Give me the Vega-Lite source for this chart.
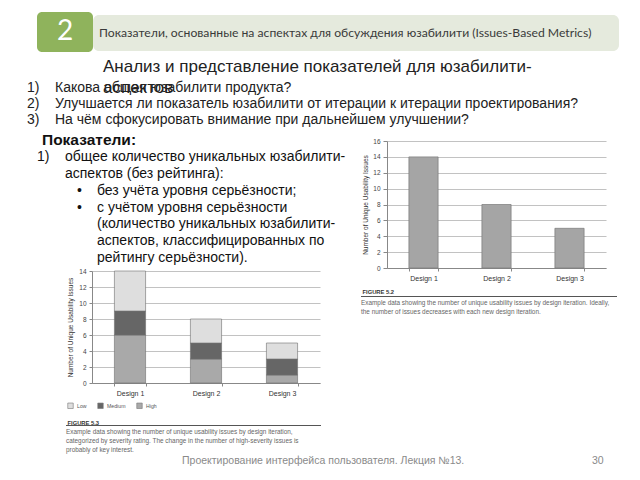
{
  "$schema": "https://vega.github.io/schema/vega-lite/v6.json",
  "background": "white",
  "padding": 0,
  "spacing": 0,
  "resolve": {"scale": {"color": "independent"}, "legend": {"color": "independent"}},
  "config": {
    "view": {"stroke": null},
    "font": "Liberation Sans",
    "text": {"font": "Liberation Sans"}
  },
  "vconcat": [
    {
      "spacing": 0,
      "hconcat": [
        {"width": 37, "height": 52, "data": {"values": []}, "mark": "text"},
        {
          "spacing": 0,
          "vconcat": [
            {"width": 56, "height": 12, "data": {"values": []}, "mark": "text"},
            {
              "width": 56, "height": 40,
              "view": {"fill": "#8fb35c", "stroke": null, "cornerRadius": 5},
              "data": {"values": [{"n": "2"}]},
              "mark": {"type": "text", "font": "Lato", "fontSize": 28, "color": "white"},
              "encoding": {"text": {"field": "n"}}
            }
          ]
        },
        {
          "spacing": 0,
          "vconcat": [
            {"width": 526, "height": 15, "data": {"values": []}, "mark": "text"},
            {
              "width": 526, "height": 36,
              "view": {"fill": "#e5eadd", "stroke": null, "cornerRadius": 6},
              "data": {"values": [{"col": 0, "t": "Показатели, основанные на аспектах для обсуждения юзабилити (Issues-Based Metrics)"}]},
              "mark": {"type": "text", "font": "Lato", "fontSize": 12.2, "color": "#3a3a3a", "align": "left"},
              "encoding": {
                "x": {"field": "col", "type": "quantitative", "scale": {"domain": [0, 1], "range": [6, 500], "zero": false, "nice": false}, "axis": null},
                "text": {"field": "t"}
              }
            }
          ]
        }
      ]
    },
    {
      "width": 640, "height": 78,
      "encoding": {
        "x": {"field": "col", "type": "quantitative", "scale": {"domain": [0, 1, 2], "range": [27, 55, 103], "zero": false, "nice": false}, "axis": null},
        "y": {"field": "row", "type": "quantitative", "scale": {"domain": [0, 1, 3], "range": [15, 36, 68], "zero": false, "nice": false}, "axis": null},
        "text": {"field": "t"}
      },
      "layer": [
        {
          "data": {"values": [
            {"row": 0, "col": 2, "t": "Анализ и представление показателей для юзабилити-"},
            {"row": 1, "col": 2, "t": "аспектов"}
          ]},
          "mark": {"type": "text", "align": "left", "baseline": "middle", "fontSize": 17, "color": "#222222"}
        },
        {
          "data": {"values": [
            {"row": 1, "col": 0, "t": "1)"},
            {"row": 1, "col": 1, "t": "Какова общая юзабилити продукта?"},
            {"row": 2, "col": 0, "t": "2)"},
            {"row": 2, "col": 1, "t": "Улучшается ли показатель юзабилити от итерации к итерации проектирования?"},
            {"row": 3, "col": 0, "t": "3)"},
            {"row": 3, "col": 1, "t": "На чём сфокусировать внимание при дальнейшем улучшении?"}
          ]},
          "mark": {"type": "text", "align": "left", "baseline": "middle", "fontSize": 14, "color": "#222222"}
        }
      ]
    },
    {
      "spacing": 0,
      "resolve": {"scale": {"color": "independent"}, "legend": {"color": "independent"}},
      "hconcat": [
        {
          "spacing": 0,
          "resolve": {"scale": {"color": "independent"}, "legend": {"color": "independent"}},
          "vconcat": [
            {
              "width": 361, "height": 138,
              "encoding": {
                "x": {"field": "col", "type": "quantitative", "scale": {"domain": [0, 1, 2, 3, 4], "range": [37, 42, 65, 77, 97], "zero": false, "nice": false}, "axis": null},
                "y": {"field": "row", "type": "quantitative", "scale": {"domain": [0, 1, 7], "range": [10, 27, 128], "zero": false, "nice": false}, "axis": null},
                "text": {"field": "t"}
              },
              "layer": [
                {
                  "data": {"values": [{"row": 0, "col": 1, "t": "Показатели:"}]},
                  "mark": {"type": "text", "align": "left", "baseline": "middle", "fontSize": 15.5, "fontWeight": "bold", "color": "#111111"}
                },
                {
                  "data": {"values": [
                    {"row": 1, "col": 0, "t": "1)"},
                    {"row": 1, "col": 2, "t": "общее количество уникальных юзабилити-"},
                    {"row": 2, "col": 2, "t": "аспектов (без рейтинга):"},
                    {"row": 3, "col": 3, "t": "•"},
                    {"row": 3, "col": 4, "t": "без учёта уровня серьёзности;"},
                    {"row": 4, "col": 3, "t": "•"},
                    {"row": 4, "col": 4, "t": "с учётом уровня серьёзности"},
                    {"row": 5, "col": 4, "t": "(количество уникальных юзабилити-"},
                    {"row": 6, "col": 4, "t": "аспектов, классифицированных по"},
                    {"row": 7, "col": 4, "t": "рейтингу серьёзности)."}
                  ]},
                  "mark": {"type": "text", "align": "left", "baseline": "middle", "fontSize": 14, "color": "#111111"}
                }
              ]
            },
            {
              "spacing": 0,
              "resolve": {"scale": {"color": "independent"}, "legend": {"color": "independent"}},
              "hconcat": [
                {"width": 66, "height": 1, "data": {"values": []}, "mark": "text"},
                {
                  "spacing": 0,
                  "resolve": {"scale": {"color": "independent"}, "legend": {"color": "independent"}},
                  "vconcat": [
                    {
                      "spacing": 0,
                      "resolve": {"scale": {"color": "independent"}, "legend": {"color": "independent"}},
                      "hconcat": [
                        {"width": 1, "height": 1, "data": {"values": []}, "mark": "text"},
                        {
                          "width": 228, "height": 112,
                          "data": {"values": [
                            {"design": "Design 1", "severity": "High", "level": 3, "issues": 6},
                            {"design": "Design 1", "severity": "Medium", "level": 2, "issues": 3},
                            {"design": "Design 1", "severity": "Low", "level": 1, "issues": 5},
                            {"design": "Design 2", "severity": "High", "level": 3, "issues": 3},
                            {"design": "Design 2", "severity": "Medium", "level": 2, "issues": 2},
                            {"design": "Design 2", "severity": "Low", "level": 1, "issues": 3},
                            {"design": "Design 3", "severity": "High", "level": 3, "issues": 1},
                            {"design": "Design 3", "severity": "Medium", "level": 2, "issues": 2},
                            {"design": "Design 3", "severity": "Low", "level": 1, "issues": 2}
                          ]},
                          "mark": {"type": "bar", "stroke": "#6e6e6e", "strokeWidth": 0.6},
                          "encoding": {
                            "x": {
                              "field": "design", "type": "nominal",
                              "scale": {"paddingInner": 0.59, "paddingOuter": 0.295},
                              "axis": {
                                "title": "FIGURE 5.3", "labelAngle": 0, "labelFontSize": 7, "labelColor": "#333333", "labelPadding": 3,
                                "tickBand": "extent", "ticks": true, "tickSize": 3, "tickColor": "#888888", "domainColor": "#888888", "grid": false,
                                "titleX": -25, "titleY": 39, "titleAlign": "left", "titleBaseline": "middle",
                                "titleFontSize": 5.8, "titleFontWeight": "bold", "titleColor": "#333333"
                              }
                            },
                            "y": {
                              "field": "issues", "type": "quantitative", "stack": "zero",
                              "scale": {"domain": [0, 14], "nice": false},
                              "axis": {
                                "title": "Number of Unique Usability Issues", "values": [0, 2, 4, 6, 8, 10, 12, 14],
                                "labelFontSize": 6.5, "labelColor": "#444444", "labelPadding": 3, "tickSize": 3, "tickColor": "#888888",
                                "domainColor": "#888888", "gridColor": "#a8a8a8", "gridWidth": 0.7,
                                "titleFontSize": 6.5, "titleFontWeight": "normal", "titleColor": "#333333", "titlePadding": 5
                              }
                            },
                            "order": {"field": "level", "type": "quantitative", "sort": "descending"},
                            "color": {
                              "field": "severity", "type": "nominal",
                              "scale": {"domain": ["Low", "Medium", "High"], "range": ["#dedede", "#666666", "#a9a9a9"]},
                              "legend": {
                                "orient": "none", "legendX": -25, "legendY": 131,
                                "direction": "horizontal", "title": null, "symbolType": "square", "symbolSize": 30,
                                "symbolStrokeColor": "#777777", "symbolStrokeWidth": 0.6, "labelFontSize": 5.2, "labelColor": "#555555",
                                "labelOffset": 3, "columnPadding": 9
                              }
                            }
                          }
                        }
                      ]
                    },
                    {
                      "width": 255, "height": 1,
                      "view": {"fill": "#555555", "stroke": null},
                      "data": {"values": []},
                      "mark": "text",
                      "title": {
                        "text": [
                          "Example data showing the number of unique usability issues by design iteration,",
                          "categorized by severity rating. The change in the number of high-severity issues is",
                          "probably of key interest."
                        ],
                        "orient": "bottom", "anchor": "start", "frame": "group", "offset": 2.5,
                        "fontSize": 6.4, "fontWeight": "normal", "color": "#666666", "lineHeight": 9, "baseline": "top"
                      }
                    }
                  ]
                }
              ]
            }
          ]
        },
        {
          "spacing": 2,
          "vconcat": [
            {"width": 1, "height": 6, "data": {"values": []}, "mark": "text"},
            {
              "spacing": 0,
              "hconcat": [
                {"width": 1, "height": 1, "data": {"values": []}, "mark": "text"},
                {
                  "width": 219, "height": 127,
                  "data": {"values": [
                    {"design": "Design 1", "issues": 14},
                    {"design": "Design 2", "issues": 8},
                    {"design": "Design 3", "issues": 5}
                  ]},
                  "mark": {"type": "bar", "color": "#a5a5a5", "stroke": "#7a7a7a", "strokeWidth": 0.7},
                  "encoding": {
                    "x": {
                      "field": "design", "type": "nominal",
                      "scale": {"paddingInner": 0.6, "paddingOuter": 0.3},
                      "axis": {
                        "title": "FIGURE 5.2", "labelAngle": 0, "labelFontSize": 7, "labelColor": "#333333", "labelPadding": 3.5,
                        "tickBand": "extent", "ticks": true, "tickSize": 3, "tickColor": "#888888", "domainColor": "#888888", "grid": false,
                        "titleX": -25, "titleY": 23, "titleAlign": "left", "titleBaseline": "middle",
                        "titleFontSize": 5.8, "titleFontWeight": "bold", "titleColor": "#333333"
                      }
                    },
                    "y": {
                      "field": "issues", "type": "quantitative",
                      "scale": {"domain": [0, 16], "nice": false},
                      "axis": {
                        "title": "Number of Unique Usability Issues", "values": [0, 2, 4, 6, 8, 10, 12, 14, 16],
                        "labelFontSize": 6.5, "labelColor": "#444444", "labelPadding": 3, "tickSize": 4, "tickColor": "#888888",
                        "domainColor": "#888888", "gridColor": "#a8a8a8", "gridWidth": 0.7,
                        "titleFontSize": 6.5, "titleFontWeight": "normal", "titleColor": "#333333", "titlePadding": 4
                      }
                    }
                  }
                }
              ]
            },
            {
              "width": 256, "height": 1,
              "view": {"fill": "#555555", "stroke": null},
              "data": {"values": []},
              "mark": "text",
              "title": {
                "text": [
                  "Example data showing the number of unique usability issues by design iteration. Ideally,",
                  "the number of issues decreases with each new design iteration."
                ],
                "orient": "bottom", "anchor": "start", "frame": "group", "offset": 3,
                "fontSize": 6.4, "fontWeight": "normal", "color": "#666666", "lineHeight": 9, "baseline": "top"
              }
            }
          ]
        }
      ]
    },
    {
      "width": 640, "height": 16,
      "data": {"values": [
        {"col": 0, "t": "Проектирование интерфейса пользователя. Лекция №13."},
        {"col": 1, "t": "30"}
      ]},
      "mark": {"type": "text", "align": "left", "baseline": "middle", "fontSize": 10.5, "color": "#8a8a8a"},
      "encoding": {
        "x": {"field": "col", "type": "quantitative", "scale": {"domain": [0, 1], "range": [182, 592], "zero": false, "nice": false}, "axis": null},
        "text": {"field": "t"}
      }
    }
  ]
}
